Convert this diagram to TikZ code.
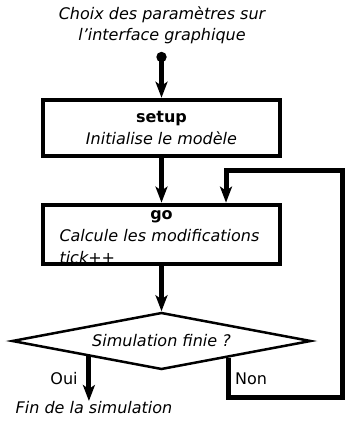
\documentclass[tikz,border=0pt]{standalone}
\usepackage{fontspec}
\setmainfont{DejaVu Sans}
\usetikzlibrary{arrows.meta,shapes.geometric}

\begin{document}
\begin{tikzpicture}[x=1pt, y=-1pt,
    font=\fontsize{16}{22}\selectfont,
    boite/.style={rectangle, draw, line width=4.5pt, minimum width=237pt, inner sep=0pt},
    fleche/.style={line width=5pt, -{Stealth[length=16pt,width=12pt,inset=4pt]}},
    etiquette/.style={inner sep=0pt}]
            \useasboundingbox (0,0) rectangle (345,427);
            \node[align=center, font=\fontsize{16}{21}\selectfont\itshape] (choix) at (162,25) {Choix des paramètres sur\\l'interface graphique};
            \coordinate (debut) at (161.5,52);
            \node[boite, minimum height=56pt, align=center] (setup) at (161.5,128) {\textbf{setup}\\\textit{Initialise le modèle}};
            \node[boite, minimum height=58pt, text width=204pt, align=left] (go) at (161.5,234.5) {\makebox[204pt]{\rule{0pt}{15pt}\textbf{go}}\\\textit{Calcule les modifications}\\\textit{tick++}};
            \node[diamond, draw, line width=2.5pt, minimum width=299pt, minimum height=57pt, aspect=5.2, inner sep=0pt] (test) at (161.5,341) {\textit{Simulation finie ?}};
            \node[etiquette, font=\fontsize{16}{22}\selectfont\itshape, anchor=north] (fin) at (94,401) {Fin de la simulation};
            \node[etiquette] (oui) at (64,379) {Oui};
            \node[etiquette] (non) at (251,379) {Non};
            \coordinate (coin) at (342.5,397);
            \coordinate (retour) at (226,170.5);
            % liaisons
            \draw[fleche, {Circle[length=10pt]}-{Stealth[length=16pt,width=12pt,inset=4pt]}] (debut) -- (setup.north);
            \draw[fleche] (setup.south) -- (go.north);
            \draw[fleche] (go.south) -- (test.north);
            \draw[fleche] (test.192) -- (test.192 |- fin.north);
            \draw[fleche] (test.-14) |- (coin) |- (retour) -- (retour |- go.north);
        \end{tikzpicture}
\end{document}
